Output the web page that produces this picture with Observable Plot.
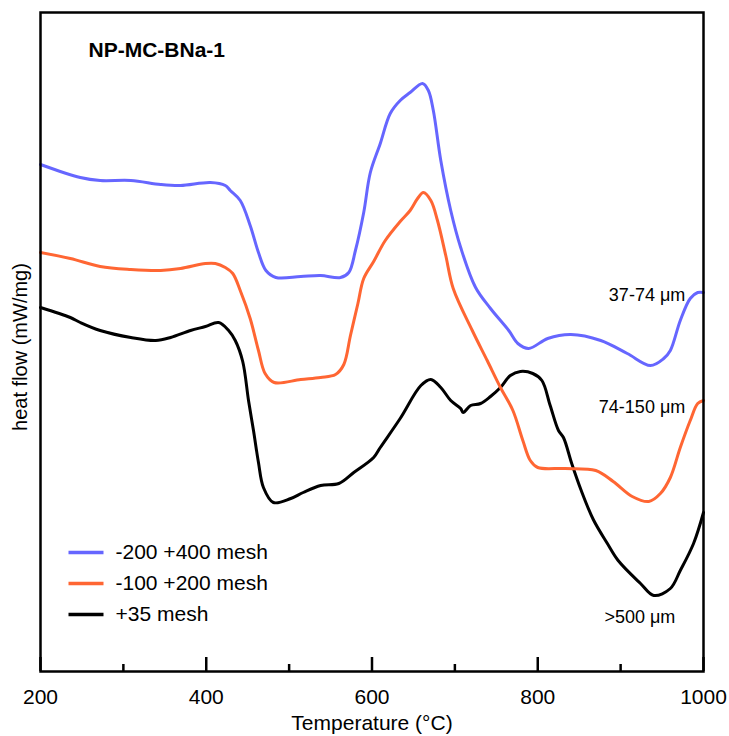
<!DOCTYPE html>
<html><head><meta charset="utf-8">
<script src="https://cdn.jsdelivr.net/npm/d3@7"></script>
<script src="https://cdn.jsdelivr.net/npm/@observablehq/plot@0.6"></script>
<style>body{margin:0;background:#fff} #chart svg{display:block}</style>
</head><body><div id="chart"></div>
<script>
// Temperature (°C) and heat flow (arbitrary mW/mg units, no scale shown)
const tempBlue = [200,248,272,309,345,369,405,423,429,441,453,463,472,484,514,538,562,572,580,590,598,610,622,634,646,661,668,674,683,695,707,725,743,765,776,789,812,840,876,908,936,952,960,972,984,993,1000];
const flowBlue = [50.7,49.4,49.1,49.1,48.7,48.6,48.9,48.6,48.1,47.1,44.6,41.9,40.1,39.4,39.5,39.6,39.4,39.9,42.1,45.9,49.9,52.8,55.8,57.1,57.9,58.8,58.1,56.1,51.1,46.1,42.4,38.4,36.3,34.1,32.8,32.3,33.3,33.7,33.1,31.8,30.6,31.3,32.1,35.1,37.3,37.9,37.9];

const tempOrange = [200,236,272,309,345,369,399,411,423,432,441,453,463,471,482,514,538,556,566,574,583,590,602,616,634,646,655,662,671,679,689,698,721,739,755,770,782,791,800,833,870,891,914,934,948,960,972,984,993,1000];
const flowOrange = [41.9,41.3,40.5,40.2,40.1,40.3,40.8,40.8,40.4,39.8,38.1,35.3,32.1,29.8,28.9,29.2,29.4,29.7,30.7,33.6,36.8,39.3,41.0,43.1,45.0,46.1,47.3,47.9,47.1,45.1,41.6,38.3,34.1,31.1,28.4,26.1,23.1,21.1,20.4,20.3,20.1,19.0,17.5,17.0,17.8,19.4,22.4,25.1,26.8,27.1];

const tempBlack = [200,236,248,272,309,339,357,381,399,415,427,435,444,451,457,463,469,481,502,517,538,560,578,602,610,634,659,671,683,695,707,710,719,731,743,755,767,779,794,805,815,825,831,841,852,867,884,897,924,940,960,972,988,1000];
const flowBlack = [36.4,35.4,34.9,34.1,33.4,33.1,33.4,34.1,34.5,34.9,34.1,33.1,31.0,27.1,24.1,20.9,18.4,16.9,17.3,17.9,18.6,18.8,19.9,21.4,22.4,25.3,28.6,29.2,28.4,27.1,26.3,25.9,26.6,26.8,27.5,28.4,29.6,30.0,29.8,29.1,26.6,24.1,23.4,20.8,18.2,15.2,12.8,11.1,8.8,7.6,8.3,10.1,12.8,15.9];

const seriesNames = ["-200 +400 mesh", "-100 +200 mesh", "+35 mesh"];
const seriesColors = ["#6666ff", "#ff6633", "#000000"];
const sizeLabels = ["37-74 \u03bcm", "74-150 \u03bcm", ">500 \u03bcm"];
const sizeLabelTemp = [978, 978, 966];
const sizeLabelFlow = [37.6, 26.4, 5.4];
const majorTicks = [200, 400, 600, 800, 1000];
const minorTicks = [300, 500, 700, 900];
const chartTitle = "NP-MC-BNa-1";

// layout
const W = 729, H = 736, mL = 40, mR = 26, mT = 12, mB = 65;
const innerH = H - mT - mB;
const yDomain = [0, innerH / 10];

const rows = (t, f) => t.map((v, i) => ({T: v, F: f[i]}));
const data = [rows(tempBlue, flowBlue), rows(tempOrange, flowOrange), rows(tempBlack, flowBlack)];

const x0 = d3.scaleLinear().domain([200, 1000]).range([mL, W - mR]);
const y0 = d3.scaleLinear().domain(yDomain).range([H - mB, mT]);

// legend positions (layout)
const legend = seriesNames.map((n, i) => ({
  name: n, color: seriesColors[i],
  x1: x0.invert(68), x2: x0.invert(103), xt: x0.invert(115), y: y0.invert(552 + i * 31)
}));

const font = "'Liberation Sans', Arial, Helvetica, sans-serif";

const marks = [
  Plot.line(data[2], {x: "T", y: "F", stroke: seriesColors[2], strokeWidth: 3, curve: "catmull-rom"}),
  Plot.line(data[1], {x: "T", y: "F", stroke: seriesColors[1], strokeWidth: 3, curve: "catmull-rom"}),
  Plot.line(data[0], {x: "T", y: "F", stroke: seriesColors[0], strokeWidth: 3, curve: "catmull-rom"}),
  Plot.tickX(majorTicks, {x: d => d, insetTop: innerH - 14, stroke: "black", strokeWidth: 2.5}),
  Plot.tickX(minorTicks, {x: d => d, insetTop: innerH - 7, stroke: "black", strokeWidth: 2.5}),
  Plot.frame({stroke: "black", strokeWidth: 2.5}),
  Plot.axisX({ticks: majorTicks, tickSize: 0, tickPadding: 18, fontSize: 21, label: null, tickFormat: d => String(d)}),
  Plot.text(["Temperature (\u00b0C)"], {frameAnchor: "bottom", dy: 52, fontSize: 21, text: d => d, textAnchor: "middle", lineAnchor: "middle"}),
  Plot.text(["heat flow (mW/mg)"], {frameAnchor: "left", dx: -20, dy: 5, rotate: -90, fontSize: 20, text: d => d, textAnchor: "middle", lineAnchor: "middle"}),
  Plot.text([chartTitle], {x: x0.invert(88), y: y0.invert(50), text: d => d, textAnchor: "start", fontWeight: "bold", fontSize: 21, lineAnchor: "middle"}),
  Plot.text(sizeLabels, {x: (d, i) => sizeLabelTemp[i], y: (d, i) => sizeLabelFlow[i], text: d => d, textAnchor: "end", fontSize: 18, lineAnchor: "middle"}),
  Plot.link(legend, {x1: "x1", x2: "x2", y1: "y", y2: "y", stroke: d => d.color, strokeWidth: 3.5}),
  Plot.text(legend, {x: "xt", y: "y", text: "name", textAnchor: "start", fontSize: 21, lineAnchor: "middle"})
];

const chart = Plot.plot({
  width: W, height: H,
  marginLeft: mL, marginRight: mR, marginTop: mT, marginBottom: mB,
  x: {domain: [200, 1000], axis: null},
  y: {domain: yDomain, axis: null},
  color: {type: "identity"},
  style: {fontFamily: font, fontSize: "21px", background: "white", color: "black", overflow: "visible"},
  marks
});
document.getElementById("chart").appendChild(chart);
</script></body></html>
